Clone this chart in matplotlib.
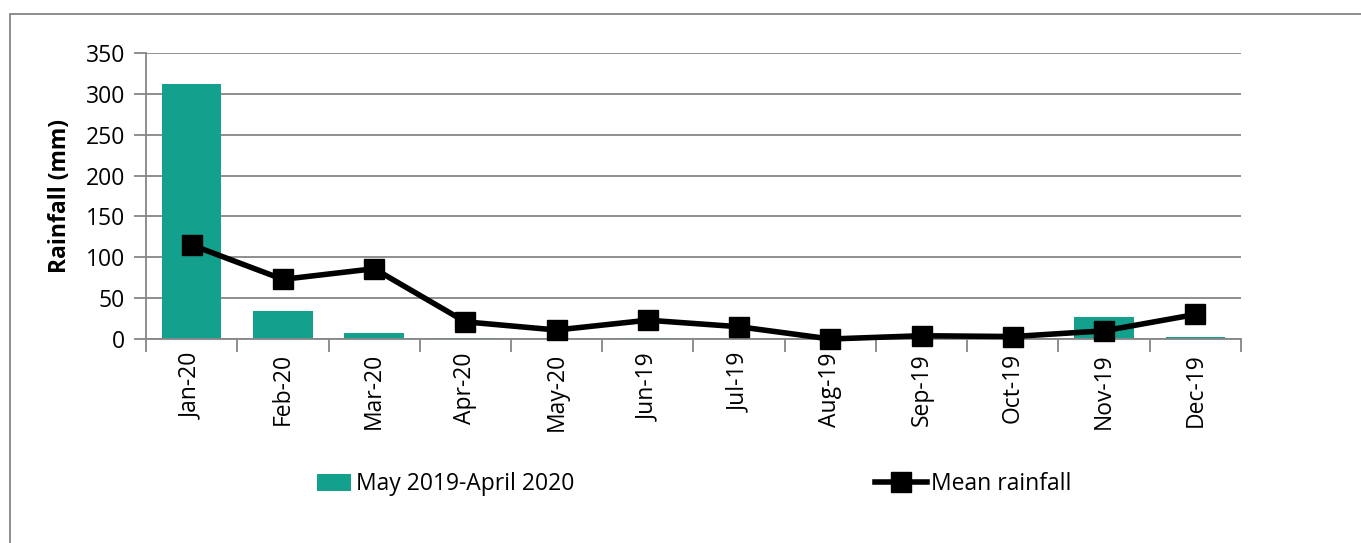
import numpy as np
import matplotlib.pyplot as plt
from matplotlib.patches import Rectangle

plt.rcParams['font.family'] = ['Open Sans', 'DejaVu Sans']

months = ["Jan-20", "Feb-20", "Mar-20", "Apr-20", "May-20", "Jun-19",
          "Jul-19", "Aug-19", "Sep-19", "Oct-19", "Nov-19", "Dec-19"]
rain_2019_20 = [312, 34, 7, 1.5, 0, 1.5, 0, 0, 0, 0.5, 27, 3]
mean_rain = [115, 73, 86, 21, 11, 23, 15, 0, 4, 3, 10, 30]

teal = "#13a08c"
grey = "#868686"
fs = 16.5

fig = plt.figure(figsize=(13.61, 5.43), dpi=100)
ax = fig.add_axes([0.1073, 0.3757, 0.8045, 0.5267])

x = np.arange(len(months))
bars = ax.bar(x, rain_2019_20, width=0.65, color=teal, label="May 2019-April 2020", zorder=2)
line, = ax.plot(x, mean_rain, color="black", lw=4, marker="s", markersize=14.5,
                label="Mean rainfall", zorder=3, clip_on=False)

ax.set_xlim(-0.5, len(months) - 0.5)
ax.set_ylim(0, 350)
ax.set_yticks(range(0, 351, 50))
ax.yaxis.grid(True, color=grey, lw=1.3)
ax.set_axisbelow(True)

ax.set_xticks(x)
ax.set_xticklabels(months, rotation=90, fontsize=fs)
ax.tick_params(axis="x", length=0, pad=10)
ax.set_xticks(np.arange(-0.5, len(months)), minor=True)
ax.tick_params(axis="x", which="minor", length=9, color=grey, width=1.3)
ax.tick_params(axis="y", labelsize=fs, length=9, color=grey, width=1.3, pad=6)

for s in ["top", "right"]:
    ax.spines[s].set_visible(False)
for s in ["left", "bottom"]:
    ax.spines[s].set_color(grey)
    ax.spines[s].set_linewidth(1.3)

ax.set_ylabel("Rainfall (mm)", fontsize=fs, fontweight="bold", labelpad=10)

# two separate legends so the patch and the line handle get their own lengths
leg1 = fig.legend(handles=[bars], loc="center left", bbox_to_anchor=(0.226, 0.108),
                  frameon=False, fontsize=fs, handlelength=1.5, handleheight=0.8,
                  handletextpad=0.2, borderaxespad=0)
leg2 = fig.legend(handles=[line], loc="center left", bbox_to_anchor=(0.636, 0.108),
                  frameon=False, fontsize=fs, handlelength=2.3,
                  handletextpad=0.15, borderaxespad=0)

fig.patches.append(Rectangle((10 / 1361, -0.1), 1.2, 1 - 14 / 543 + 0.1,
                             transform=fig.transFigure, fill=False,
                             edgecolor=grey, lw=1.3))

fig.savefig("out.png", dpi=100)
